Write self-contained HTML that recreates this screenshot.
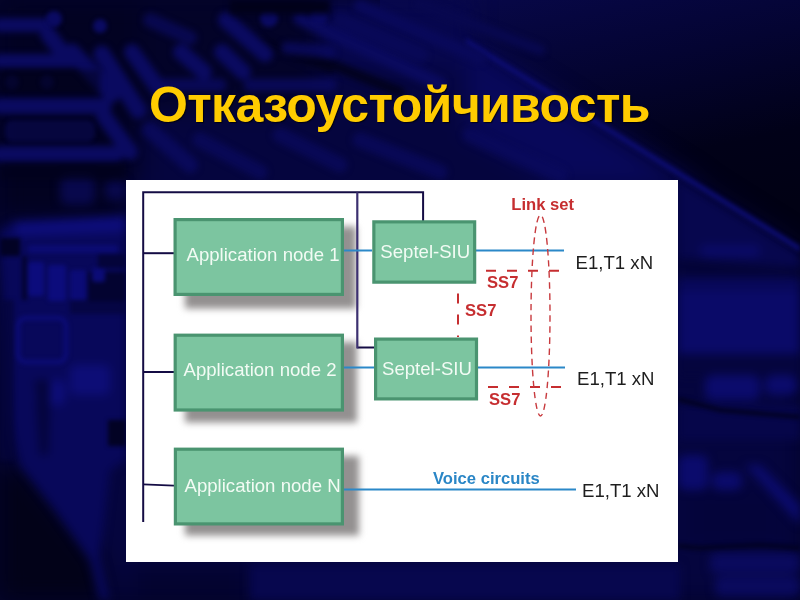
<!DOCTYPE html>
<html><head><meta charset="utf-8">
<style>
html,body{margin:0;padding:0;}
body{width:800px;height:600px;overflow:hidden;position:relative;background:#02022a;font-family:"Liberation Sans",sans-serif;}
#bg{position:absolute;left:0;top:0;width:800px;height:600px;}
#title{position:absolute;left:149px;top:75px;font-size:50px;letter-spacing:-0.65px;font-weight:bold;color:#ffcc00;text-shadow:1px 1px 1px rgba(0,0,0,0.7);white-space:nowrap;line-height:60px;will-change:transform;}
#wb{position:absolute;left:126px;top:180px;width:552px;height:382px;background:#fff;}
#dg{position:absolute;left:0;top:0;width:800px;height:600px;will-change:transform;}
</style></head><body>
<svg id="bg" width="800" height="600" viewBox="0 0 800 600">
<defs>
<filter id="b2" color-interpolation-filters="sRGB" x="-20%" y="-20%" width="140%" height="140%"><feGaussianBlur stdDeviation="2"/></filter>
<filter id="b3" color-interpolation-filters="sRGB" x="-20%" y="-20%" width="140%" height="140%"><feGaussianBlur stdDeviation="3"/></filter>
<filter id="b5" color-interpolation-filters="sRGB" x="-30%" y="-30%" width="160%" height="160%"><feGaussianBlur stdDeviation="5"/></filter>
<filter id="b12" color-interpolation-filters="sRGB" x="-30%" y="-30%" width="160%" height="160%"><feGaussianBlur stdDeviation="12"/></filter>
<linearGradient id="gtr" x1="0" y1="0" x2="0.35" y2="1">
<stop offset="0" stop-color="#08084c"/><stop offset="0.4" stop-color="#040432"/><stop offset="0.75" stop-color="#010118"/><stop offset="1" stop-color="#010114"/>
</linearGradient>
</defs>
<rect width="800" height="600" fill="#03032a"/>
<rect x="380" y="0" width="420" height="260" fill="url(#gtr)"/>
<g filter="url(#b12)">
<polygon points="0,0 466,0 466,40 800,250 800,600 0,600" fill="#05053e"/>
<rect x="300" y="0" width="170" height="70" fill="#07074e"/>
<polygon points="466,40 700,185 560,185 466,130" fill="#08085a"/>
<rect x="0" y="0" width="140" height="180" fill="#020222"/>
<rect x="140" y="0" width="180" height="110" fill="#030328"/>
<rect x="0" y="172" width="126" height="48" fill="#020220"/>
<rect x="678" y="250" width="122" height="20" fill="#030330"/>
<polygon points="0,470 20,460 60,510 100,555 110,600 0,600" fill="#020218"/>
<rect x="690" y="490" width="90" height="55" fill="#04043a"/>
<rect x="130" y="565" width="120" height="35" fill="#030330"/>
</g>
<g filter="url(#b5)">
<polygon points="15,222 126,218 126,460 110,470 100,555 110,600 100,600 90,560 55,510 20,465 10,420 5,330 0,260 0,230" fill="#08085a"/>
<rect x="60" y="175" width="35" height="30" rx="8" fill="#08084c"/>
<rect x="105" y="180" width="21" height="20" rx="6" fill="#08084c"/>
<polygon points="15,222 126,216 126,232 15,236" fill="#0d0d7a"/>
<rect x="35" y="380" width="30" height="25" rx="6" fill="#0d0d78"/>
<rect x="70" y="365" width="40" height="30" rx="6" fill="#0d0d76"/>
<polygon points="35,380 50,380 48,455 40,455" fill="#04043a"/>
<polygon points="678,180 800,254 800,268 678,258" fill="#07074e"/>
<rect x="700" y="245" width="60" height="12" rx="5" fill="#0a0a66"/>
<rect x="678" y="278" width="122" height="14" fill="#08085a"/>
<rect x="678" y="292" width="122" height="62" fill="#0a0a68"/>
<rect x="678" y="355" width="122" height="22" fill="#05053e"/>
<rect x="705" y="375" width="55" height="25" rx="8" fill="#0b0b6c"/>
<rect x="765" y="375" width="32" height="20" rx="8" fill="#0b0b6c"/>
<rect x="678" y="405" width="122" height="35" fill="#06064a"/>
<rect x="678" y="455" width="30" height="35" rx="8" fill="#0b0b6c"/>
<rect x="712" y="472" width="30" height="18" rx="8" fill="#0b0b6c"/>
<polygon points="745,465 760,465 800,505 800,525" fill="#0b0b6c"/>
<rect x="710" y="553" width="90" height="20" rx="6" fill="#0a0a5e"/>
<rect x="715" y="576" width="85" height="20" rx="6" fill="#0a0a5e"/>
<rect x="250" y="565" width="430" height="35" fill="#07074e"/>
</g>
<g filter="url(#b2)">
<polygon points="466,38 800,246 800,252 466,44" fill="#0c0c70"/>
</g>
<!-- left strip texture -->
<g filter="url(#b2)">
<rect x="0" y="238" width="20" height="18" fill="#020224"/>
<rect x="22" y="256" width="5" height="44" fill="#030330"/>
<rect x="88" y="272" width="38" height="30" fill="#030330"/>
<rect x="98" y="254" width="28" height="14" fill="#04043a"/>
<rect x="28" y="262" width="16" height="34" rx="3" fill="#0c0c7c"/>
<rect x="48" y="265" width="18" height="36" rx="3" fill="#0c0c7c"/>
<rect x="70" y="270" width="16" height="30" rx="3" fill="#0b0b76"/>
<rect x="92" y="268" width="13" height="14" rx="3" fill="#0b0b76"/>
<rect x="28" y="245" width="90" height="8" rx="3" fill="#0b0b72"/>
<rect x="0" y="300" width="14" height="160" fill="#04043a" opacity="0.7"/>
<rect x="18" y="318" width="48" height="44" rx="8" fill="none" stroke="#0b0b74" stroke-width="5"/>
<rect x="108" y="420" width="18" height="26" fill="#020224"/>
<rect x="70" y="300" width="56" height="14" fill="#04043a" opacity="0.7"/>
</g>
<g filter="url(#b2)" fill="none" stroke="#020220" stroke-width="4">
<polyline points="678,399 720,410 800,417"/>
<polyline points="678,546 700,548 760,545 800,548"/>
</g>
<g filter="url(#b3)" fill="none" stroke-linecap="round">
<line x1="300" y1="18" x2="440" y2="84" stroke="#0a0a5e" stroke-width="14"/>
<line x1="360" y1="6" x2="480" y2="58" stroke="#09095a" stroke-width="12"/>
<line x1="420" y1="4" x2="540" y2="50" stroke="#08084f" stroke-width="10"/>
<line x1="300" y1="52" x2="400" y2="92" stroke="#02021e" stroke-width="10"/>
<line x1="260" y1="40" x2="330" y2="70" stroke="#02021e" stroke-width="8"/>
</g>
<!-- top-left bars / capsules -->
<g filter="url(#b3)" stroke="#0a0a60" stroke-linecap="round" fill="none">
<line x1="0" y1="25" x2="46" y2="25" stroke-width="14"/>
<line x1="0" y1="61" x2="82" y2="61" stroke-width="14"/>
<line x1="0" y1="106" x2="104" y2="106" stroke-width="16"/>
<line x1="0" y1="154" x2="116" y2="154" stroke-width="16"/>
<line x1="48" y1="34" x2="68" y2="60" stroke-width="16"/>
<line x1="72" y1="52" x2="112" y2="94" stroke-width="17"/>
<line x1="102" y1="54" x2="138" y2="110" stroke-width="17"/>
<line x1="104" y1="116" x2="130" y2="152" stroke-width="16"/>
<line x1="132" y1="52" x2="158" y2="88" stroke-width="16"/>
<line x1="181" y1="52" x2="204" y2="72" stroke-width="16"/>
<line x1="222" y1="52" x2="243" y2="72" stroke-width="16"/>
<line x1="226" y1="20" x2="265" y2="54" stroke-width="16"/>
<line x1="160" y1="85" x2="220" y2="85" stroke-width="13" opacity="0.8"/>
<line x1="250" y1="85" x2="330" y2="85" stroke-width="13" opacity="0.8"/>
<line x1="287" y1="48" x2="330" y2="52" stroke-width="12" opacity="0.8"/>
<line x1="150" y1="20" x2="190" y2="38" stroke-width="14" opacity="0.7"/>
<line x1="150" y1="130" x2="190" y2="165" stroke-width="16" opacity="0.8"/>
<line x1="200" y1="140" x2="260" y2="172" stroke-width="15" opacity="0.7"/>
<line x1="280" y1="135" x2="340" y2="165" stroke-width="15" opacity="0.7"/>
<line x1="360" y1="140" x2="440" y2="172" stroke-width="15" opacity="0.7"/>
<line x1="470" y1="135" x2="560" y2="175" stroke-width="15" opacity="0.7"/>
<line x1="340" y1="20" x2="420" y2="55" stroke-width="16" opacity="0.5"/>
</g>
<g filter="url(#b2)" fill="#0a0a62">
<circle cx="54" cy="19" r="8"/>
<circle cx="100" cy="26" r="7"/>
<circle cx="269" cy="18" r="9"/>
<circle cx="319" cy="16" r="9"/>
<circle cx="12" cy="82" r="7" opacity="0.5"/>
<circle cx="47" cy="82" r="7" opacity="0.5"/>
<rect x="5" y="120" width="90" height="22" rx="8" opacity="0.45"/>
</g>
<g filter="url(#b3)" fill="#01011a">
<rect x="230" y="0" width="100" height="14"/>
<rect x="0" y="70" width="100" height="22" opacity="0.5"/>
<rect x="0" y="164" width="126" height="16" opacity="0.6"/>
</g>
</svg>
<div id="title">Отказоустойчивость</div>
<div id="wb"></div>
<svg id="dg" width="800" height="600" viewBox="0 0 800 600" font-family="Liberation Sans, sans-serif">
<defs>
<filter id="sh" color-interpolation-filters="sRGB" x="-20%" y="-20%" width="150%" height="150%"><feGaussianBlur color-interpolation-filters="sRGB" stdDeviation="3.5"/></filter>
</defs>
<!-- shadows -->
<g fill="#939090" filter="url(#sh)">
<rect x="185" y="226.5" width="171" height="82"/>
<rect x="185" y="342" width="172" height="80.5"/>
<rect x="185" y="456" width="174" height="79.5"/>
</g>
<!-- navy lines -->
<g stroke="#140c44" stroke-width="2" fill="none">
<polyline points="143.2,522 143.2,192.3 423.1,192.3 423.1,221"/>
<line x1="143.2" y1="253.2" x2="174" y2="253.2"/>
<line x1="143.2" y1="372" x2="174" y2="372"/>
<line x1="143.2" y1="484.3" x2="174" y2="485.6" stroke-width="1.8"/>
<line x1="357.3" y1="347.5" x2="374" y2="347.5"/>
</g>
<line x1="357.3" y1="192.3" x2="357.3" y2="348.5" stroke="#3c3070" stroke-width="2.2"/>
<!-- blue lines -->
<g stroke="#2b88c8" stroke-width="2">
<line x1="344" y1="250.5" x2="372" y2="250.5"/>
<line x1="476" y1="250.5" x2="564" y2="250.5"/>
<line x1="344" y1="367.5" x2="374" y2="367.5"/>
<line x1="478" y1="367.5" x2="565" y2="367.5"/>
<line x1="344" y1="489.5" x2="576" y2="489.5"/>
</g>
<!-- green boxes -->
<g fill="#7cc5a0" stroke="#4a9470" stroke-width="3.2">
<rect x="175.1" y="219.6" width="167.3" height="74.8"/>
<rect x="175.2" y="335.2" width="167.2" height="74.8"/>
<rect x="175.4" y="449.2" width="167" height="74.7"/>
<rect x="373.85" y="221.85" width="100.8" height="60.3"/>
<rect x="375.6" y="339.1" width="100.9" height="59.8"/>
</g>
<!-- red dashed -->
<g stroke="#c62e30" fill="none">
<line x1="486" y1="270.7" x2="559" y2="270.7" stroke-width="2" stroke-dasharray="10 11"/>
<line x1="488" y1="387" x2="561" y2="387" stroke-width="2" stroke-dasharray="10 11"/>
<line x1="458" y1="293.5" x2="458" y2="337" stroke-width="2" stroke-dasharray="10 11"/>
<ellipse cx="540.5" cy="315.5" rx="9.5" ry="100.5" stroke-width="1.4" stroke-dasharray="6.5 4.5" stroke="#c83a3e"/>
</g>
<!-- text -->
<g font-size="18.6" fill="#f2fbf4">
<text x="186.5" y="260.8">Application node 1</text>
<text x="183.5" y="375.6">Application node 2</text>
<text x="184.5" y="492">Application node N</text>
<text x="380.3" y="257.6">Septel-SIU</text>
<text x="382" y="375.2">Septel-SIU</text>
</g>
<g font-size="18.6" fill="#1e1e1e">
<text x="575.6" y="268.7">E1,T1 xN</text>
<text x="577" y="385">E1,T1 xN</text>
<text x="582" y="496.9">E1,T1 xN</text>
</g>
<g font-size="16.6" font-weight="bold" fill="#c62e30">
<text x="511.3" y="210">Link set</text>
<text x="487" y="288">SS7</text>
<text x="465" y="315.7">SS7</text>
<text x="489" y="404.5">SS7</text>
</g>
<text x="433" y="483.6" font-size="16.6" font-weight="bold" fill="#2a86c6">Voice circuits</text>
</svg>
</body></html>
